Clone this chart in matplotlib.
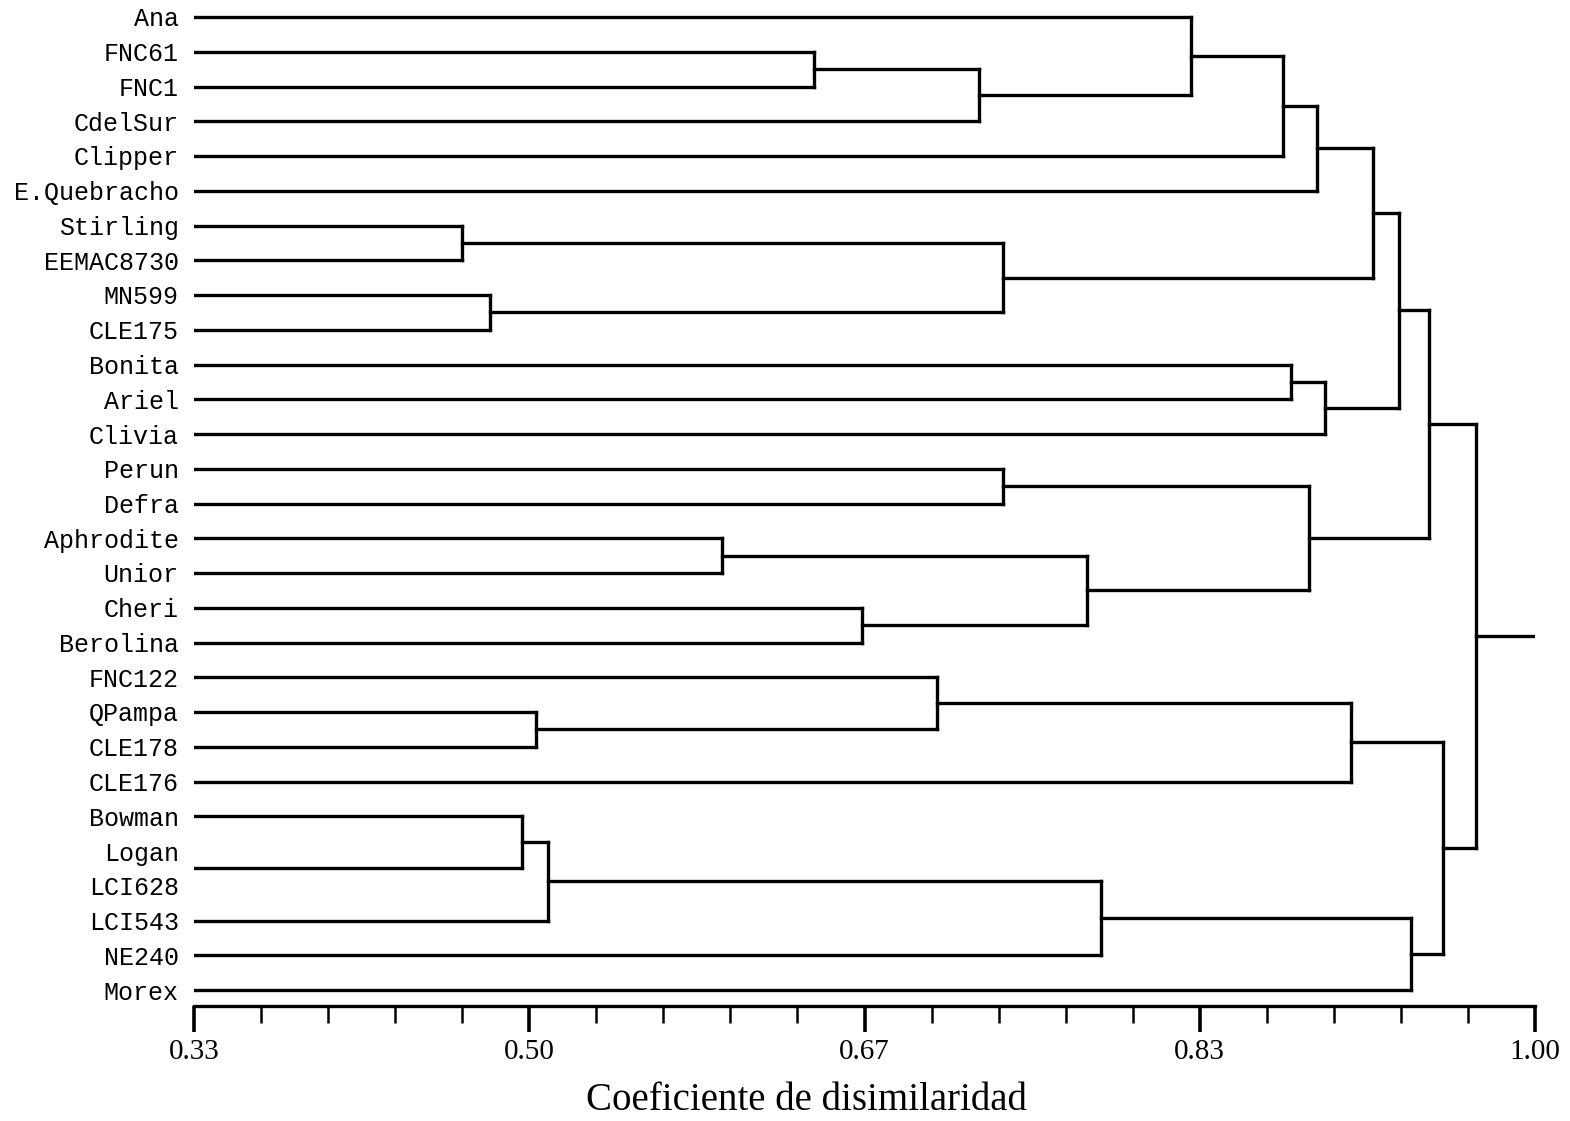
import matplotlib
matplotlib.use("Agg")
import matplotlib.pyplot as plt
import numpy as np

# ---- data -------------------------------------------------------------
leaves = ["Ana", "FNC61", "FNC1", "CdelSur", "Clipper", "E.Quebracho",
          "Stirling", "EEMAC8730", "MN599", "CLE175", "Bonita", "Ariel",
          "Clivia", "Perun", "Defra", "Aphrodite", "Unior", "Cheri",
          "Berolina", "FNC122", "QPampa", "CLE178", "CLE176", "Bowman",
          "Logan", "LCI628", "LCI543", "NE240", "Morex"]

# node ids 0..28 are leaves; merge k creates node 29+k
merge_a = [1, 29, 0, 31, 32, 6, 8, 34, 33, 10, 38, 37, 13, 15, 17, 42, 41, 40,
           20, 19, 48, 24, 23, 51, 52, 53, 49, 46]
merge_b = [2, 3, 30, 4, 5, 7, 9, 35, 36, 11, 12, 39, 14, 16, 18, 43, 44, 45,
           21, 47, 22, 25, 50, 26, 27, 28, 54, 55]
merge_h = [0.640, 0.722, 0.828, 0.874, 0.891, 0.464, 0.478, 0.734, 0.919,
           0.878, 0.895, 0.932, 0.734, 0.594, 0.664, 0.776, 0.887, 0.947,
           0.501, 0.701, 0.908, 0.330, 0.494, 0.507, 0.783, 0.938, 0.954,
           0.9705]

tick_vals = np.linspace(0.33, 1.00, 21)
major_vals = tick_vals[::5]
major_labels = ["0.33", "0.50", "0.67", "0.83", "1.00"]
xlabel = "Coeficiente de disimilaridad"

# ---- figure -----------------------------------------------------------
W, H = 1570, 1121
fig = plt.figure(figsize=(W / 100, H / 100), dpi=100)
x0_px, x1_px = 194, 1535
axis_px = 1006
ax = fig.add_axes([x0_px / W, 1 - axis_px / H, (x1_px - x0_px) / W, axis_px / H])

xmin, xmax = 0.33, 1.00
ax.set_xlim(xmin, xmax)
first_px, step_px = 17, 34.75
ax.set_ylim((axis_px - first_px) / step_px, -first_px / step_px)

lw = 2.4
n = len(leaves)
ypos = {i: float(i) for i in range(n)}
hpos = {i: xmin for i in range(n)}

for k, (a, b, h) in enumerate(zip(merge_a, merge_b, merge_h)):
    node = n + k
    ya, yb = ypos[a], ypos[b]
    if h > xmin:
        ax.plot([hpos[a], h], [ya, ya], color="black", lw=lw, solid_capstyle="projecting")
        ax.plot([hpos[b], h], [yb, yb], color="black", lw=lw, solid_capstyle="projecting")
        ax.plot([h, h], [ya, yb], color="black", lw=lw, solid_capstyle="projecting")
    ypos[node] = (ya + yb) / 2
    hpos[node] = h

root = n + len(merge_h) - 1
ax.plot([hpos[root], xmax], [ypos[root], ypos[root]], color="black", lw=lw)

# ---- axes styling -------------------------------------------------------
for s in ["left", "right", "top"]:
    ax.spines[s].set_visible(False)
ax.spines["bottom"].set_linewidth(2.4)

ax.set_yticks(range(n))
ax.set_yticklabels(leaves, family="Liberation Mono", fontsize=18)
for t in ax.get_yticklabels():
    t.set_verticalalignment("center_baseline")
ax.tick_params(axis="y", length=0, pad=11)

ax.set_xticks(major_vals)
ax.set_xticklabels(major_labels, family="Liberation Serif", fontsize=21)
ax.set_xticks(tick_vals, minor=True)
ax.tick_params(axis="x", which="major", length=19, width=2.6, pad=5, direction="out")
ax.tick_params(axis="x", which="minor", length=12, width=1.8, direction="out")

fig.text(806 / W, 1 - 1100 / H, xlabel, family="Liberation Serif", fontsize=28,
         ha="center", va="center")

fig.savefig("out.png", dpi=100)
